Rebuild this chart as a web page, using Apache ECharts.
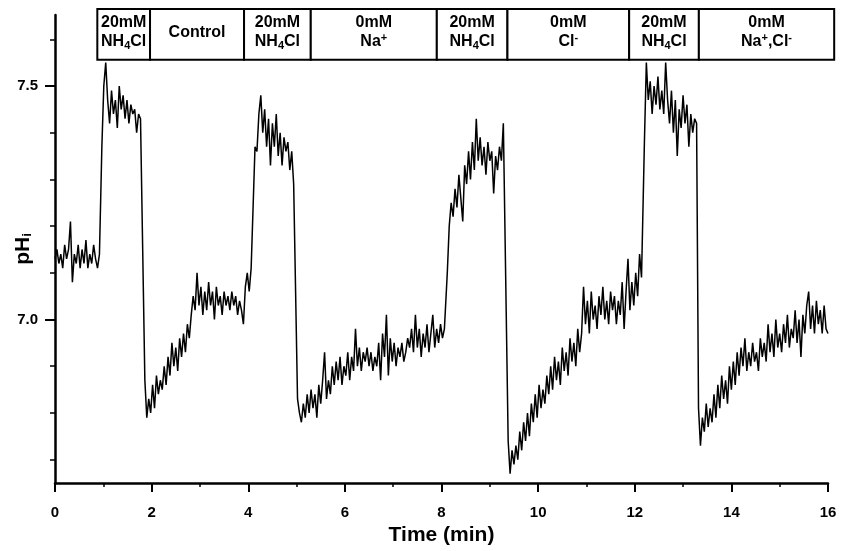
<!DOCTYPE html>
<html>
<head>
<meta charset="utf-8">
<title>Intracellular pH – NH4Cl prepulse</title>
<script src="https://cdn.jsdelivr.net/npm/echarts@6/dist/echarts.min.js"></script>
<style>
  html, body { margin: 0; padding: 0; background: #fff; }
  #chart { width: 845px; height: 551px; }
</style>
</head>
<body>
<div id="chart"></div>
<script>
// pHi trace, sampled every 0.04 min; each run starts at the listed time (min)
const SAMPLE_STEP = 0.04;
const segmentStarts = [0, 0.97, 1.86, 4.14, 5.02, 8.12, 9.38, 12.20, 13.32];

const restPH = [7.13, 7.15, 7.12, 7.14, 7.11, 7.16, 7.13, 7.15, 7.21, 7.08, 7.14, 7.12,
  7.16, 7.11, 7.15, 7.12, 7.17, 7.11, 7.14, 7.12, 7.16, 7.13, 7.11, 7.14];

const pulse1PH = [7.37, 7.50, 7.55, 7.47, 7.42, 7.49, 7.44, 7.47, 7.41, 7.50, 7.45, 7.48,
  7.43, 7.47, 7.42, 7.46, 7.44, 7.45, 7.40, 7.44, 7.43];

const controlPH = [6.87, 6.79, 6.83, 6.80, 6.86, 6.81, 6.88, 6.84, 6.87, 6.85, 6.90, 6.86,
  6.92, 6.88, 6.95, 6.90, 6.94, 6.89, 6.96, 6.92, 6.97, 6.93, 6.99, 6.96, 7.01, 7.05,
  7.02, 7.10, 7.03, 7.07, 7.01, 7.06, 7.02, 7.08, 7.03, 7.06, 7.00, 7.07, 7.03, 7.05,
  7.01, 7.06, 7.03, 7.05, 7.02, 7.06, 7.03, 7.05, 7.01, 7.04, 7.02, 6.99, 7.07, 7.10,
  7.06, 7.11];

const pulse2PH = [7.37, 7.36, 7.44, 7.48, 7.40, 7.45, 7.37, 7.43, 7.33, 7.42, 7.37, 7.44,
  7.35, 7.40, 7.33, 7.39, 7.36, 7.38, 7.32, 7.36, 7.29];

const zeroNaPH = [6.83, 6.80, 6.78, 6.82, 6.79, 6.84, 6.80, 6.85, 6.81, 6.84, 6.79, 6.86,
  6.82, 6.87, 6.93, 6.83, 6.87, 6.84, 6.90, 6.86, 6.91, 6.87, 6.92, 6.86, 6.90, 6.88,
  6.93, 6.87, 6.92, 6.89, 6.98, 6.90, 6.94, 6.89, 6.93, 6.91, 6.94, 6.90, 6.93, 6.89,
  6.92, 6.90, 6.95, 6.87, 6.97, 6.92, 7.01, 6.88, 6.96, 6.91, 6.95, 6.90, 6.94, 6.92,
  6.95, 6.91, 6.93, 6.96, 6.94, 6.98, 6.93, 7.01, 6.94, 6.98, 6.92, 6.97, 6.94, 6.99,
  6.93, 6.97, 7.01, 6.94, 6.98, 6.95, 6.99, 6.96, 6.98];

const pulse3PH = [7.10, 7.20, 7.25, 7.22, 7.28, 7.24, 7.31, 7.26, 7.21, 7.33, 7.29, 7.36,
  7.30, 7.38, 7.32, 7.43, 7.34, 7.39, 7.33, 7.37, 7.31, 7.38, 7.34, 7.36, 7.27, 7.35,
  7.32, 7.37, 7.34, 7.42];

const zeroClPH = [6.74, 6.67, 6.72, 6.69, 6.73, 6.70, 6.76, 6.72, 6.78, 6.74, 6.80, 6.75,
  6.82, 6.78, 6.84, 6.79, 6.86, 6.81, 6.85, 6.82, 6.88, 6.84, 6.90, 6.85, 6.92, 6.87,
  6.91, 6.86, 6.94, 6.89, 6.93, 6.88, 6.96, 6.91, 6.95, 6.90, 6.98, 6.93, 6.97, 7.07,
  6.99, 7.04, 6.97, 7.06, 7.00, 7.03, 6.98, 7.05, 7.01, 7.07, 7.00, 7.04, 6.99, 7.06,
  7.02, 7.05, 6.99, 7.04, 7.01, 7.08, 6.98, 7.06, 7.13, 7.02, 7.08, 7.03, 7.10, 7.05,
  7.14, 7.09];

const pulse4PH = [7.38, 7.55, 7.47, 7.51, 7.44, 7.50, 7.46, 7.52, 7.45, 7.49, 7.44, 7.55,
  7.47, 7.42, 7.49, 7.40, 7.47, 7.35, 7.45, 7.41, 7.48, 7.42, 7.46, 7.37, 7.44, 7.40,
  7.43, 7.42];

const zeroNaClPH = [6.81, 6.73, 6.79, 6.76, 6.82, 6.77, 6.81, 6.78, 6.84, 6.79, 6.86, 6.81,
  6.88, 6.83, 6.87, 6.82, 6.90, 6.85, 6.91, 6.86, 6.93, 6.88, 6.94, 6.90, 6.96, 6.89,
  6.93, 6.90, 6.95, 6.91, 6.93, 6.89, 6.96, 6.92, 6.95, 6.91, 6.99, 6.93, 6.97, 6.92,
  7.00, 6.94, 6.97, 6.93, 6.99, 6.95, 7.01, 6.94, 6.98, 6.96, 7.02, 6.95, 7.00, 6.92,
  7.01, 6.97, 7.03, 7.06, 6.98, 7.03, 6.97, 7.04, 6.99, 7.02, 6.97, 7.03, 6.98, 6.97];

const traceSegments = [restPH, pulse1PH, controlPH, pulse2PH, zeroNaPH,
  pulse3PH, zeroClPH, pulse4PH, zeroNaClPH];

// Superfusion periods (min) and the solution named in each box
const bathSpans = [[0.876, 1.967], [1.967, 3.913], [3.913, 5.294], [5.294, 7.903],
  [7.903, 9.365], [9.365, 11.884], [11.884, 13.327], [13.327, 16.128]];
const bathLabels = [
  '{b|20mM}\n{b|NH}{sub|4}{b|Cl}',
  '{b|Control}',
  '{b|20mM}\n{b|NH}{sub|4}{b|Cl}',
  '{b|0mM}\n{b|Na}{sup|+}',
  '{b|20mM}\n{b|NH}{sub|4}{b|Cl}',
  '{b|0mM}\n{b|Cl}{sup|-}',
  '{b|20mM}\n{b|NH}{sub|4}{b|Cl}',
  '{b|0mM}\n{b|Na}{sup|+}{b|,Cl}{sup|-}'
];
const bathBand = [7.556, 7.665]; // pH range covered by the solution boxes

const xTicks = { min: 0, max: 16, step: 2 };
const yRange = { min: 6.65, max: 7.652 };
const yMajorTicks = [7.0, 7.5];
const yMinorTicks = [6.7, 6.8, 6.9, 7.0, 7.1, 7.2, 7.3, 7.4, 7.5, 7.6];

const FONT = '"Liberation Sans", Arial, Helvetica, sans-serif';

const traceData = [];
traceSegments.forEach((vals, s) => {
  vals.forEach((v, i) => {
    traceData.push([+(segmentStarts[s] + i * SAMPLE_STEP).toFixed(3), v]);
  });
});

const boxRich = {
  b: { fontSize: 16, fontWeight: 'bold', fontFamily: FONT, lineHeight: 19, fill: '#000' },
  sub: { fontSize: 11, fontWeight: 'bold', fontFamily: FONT, lineHeight: 11, padding: [8, 0, 0, 0], fill: '#000' },
  sup: { fontSize: 11, fontWeight: 'bold', fontFamily: FONT, lineHeight: 11, padding: [0, 0, 8, 0], fill: '#000' }
};

const chart = echarts.init(document.getElementById('chart'), null, { renderer: 'canvas' });

const option = {
  animation: false,
  backgroundColor: '#fff',
  grid: { left: 55, right: 17, top: 15, bottom: 67 },
  xAxis: {
    type: 'value',
    min: xTicks.min,
    max: xTicks.max,
    interval: xTicks.step,
    name: 'Time (min)',
    nameLocation: 'middle',
    nameGap: 42,
    nameTextStyle: { fontFamily: FONT, fontWeight: 'bold', fontSize: 21, color: '#000' },
    axisLine: { lineStyle: { color: '#000', width: 2.5 } },
    axisTick: { length: 9, lineStyle: { color: '#000', width: 2 } },
    minorTick: { show: true, splitNumber: 2, length: 4, lineStyle: { color: '#000', width: 1.5 } },
    axisLabel: { margin: 22, fontFamily: FONT, fontWeight: 'bold', fontSize: 15, color: '#000' },
    splitLine: { show: false }
  },
  yAxis: [{
    type: 'value',
    min: yRange.min,
    max: yRange.max,
    name: '{m|pH}{s|i}',
    nameLocation: 'middle',
    nameGap: 20,
    nameTextStyle: {
      rich: {
        m: { fontFamily: FONT, fontWeight: 'bold', fontSize: 21, color: '#000', lineHeight: 24 },
        s: { fontFamily: FONT, fontWeight: 'bold', fontSize: 13, color: '#000', lineHeight: 13, padding: [9, 0, 0, 0] }
      }
    },
    axisLine: { show: true, lineStyle: { color: '#000', width: 2.5 } },
    axisTick: { show: true, length: 5, customValues: yMinorTicks, lineStyle: { color: '#000', width: 1.5 } },
    axisLabel: { show: false },
    splitLine: { show: false }
  }, {
    type: 'value',
    min: yRange.min,
    max: yRange.max,
    position: 'left',
    axisLine: { show: false },
    axisTick: { show: true, length: 10, customValues: yMajorTicks, lineStyle: { color: '#000', width: 2 } },
    axisLabel: {
      show: true, customValues: yMajorTicks, margin: 17,
      formatter: v => v.toFixed(1),
      fontFamily: FONT, fontWeight: 'bold', fontSize: 15, color: '#000'
    },
    splitLine: { show: false }
  }],
  series: [{
    type: 'line',
    data: traceData,
    yAxisIndex: 0,
    showSymbol: false,
    symbol: 'none',
    lineStyle: { color: '#000', width: 1.5 },
    z: 2
  }, {
    type: 'custom',
    clip: false,
    silent: true,
    z: 5,
    yAxisIndex: 0,
    data: bathSpans.map((s, i) => [s[0], s[1], bathBand[0], bathBand[1], i]),
    encode: { x: [0, 1], y: [2, 3] },
    renderItem(params, api) {
      const tl = api.coord([api.value(0), api.value(3)]);
      const br = api.coord([api.value(1), api.value(2)]);
      const idx = api.value(4);
      return {
        type: 'group',
        children: [{
          type: 'rect',
          shape: { x: tl[0], y: tl[1], width: br[0] - tl[0], height: br[1] - tl[1] },
          style: { fill: '#fff', stroke: '#000', lineWidth: 2 }
        }, {
          type: 'text',
          x: (tl[0] + br[0]) / 2,
          y: (tl[1] + br[1]) / 2 - 2,
          style: {
            text: bathLabels[idx],
            rich: boxRich,
            align: 'center',
            verticalAlign: 'middle',
            fill: '#000'
          }
        }]
      };
    }
  }]
};

chart.setOption(option);
</script>
</body>
</html>
